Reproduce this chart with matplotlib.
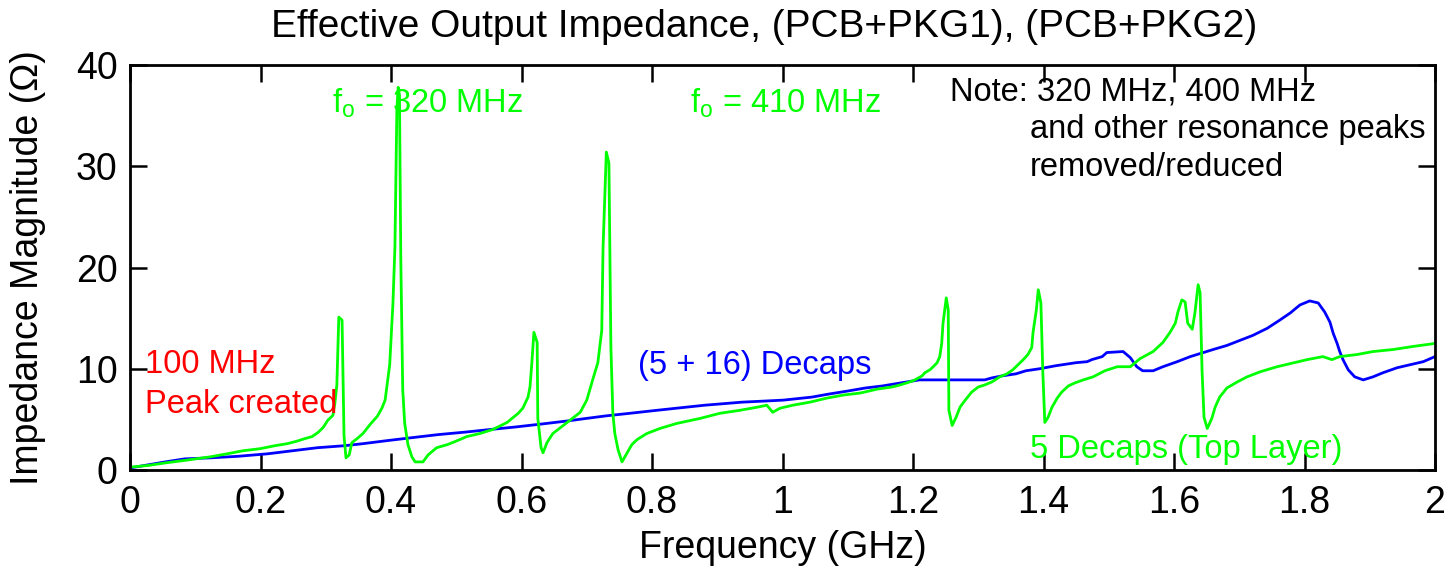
import matplotlib
matplotlib.use("Agg")
import matplotlib.pyplot as plt

plt.rcParams['font.family'] = ['Liberation Sans', 'DejaVu Sans']

# ---- data (GHz, Ohm) ----
freq_5 = [0.003, 0.028, 0.054, 0.084, 0.123, 0.149, 0.173, 0.199, 0.222, 0.241,
          0.256, 0.268, 0.279, 0.288, 0.296, 0.303, 0.311, 0.314, 0.317, 0.320,
          0.325, 0.328, 0.331, 0.336, 0.340, 0.348, 0.357, 0.368, 0.379, 0.386,
          0.391, 0.394, 0.398, 0.403, 0.406, 0.409, 0.411, 0.413, 0.415, 0.418,
          0.421, 0.426, 0.432, 0.437, 0.449, 0.457, 0.470, 0.486, 0.498, 0.516,
          0.536, 0.556, 0.578, 0.595, 0.602, 0.610, 0.613, 0.616, 0.619, 0.624,
          0.625, 0.630, 0.633, 0.639, 0.648, 0.670, 0.690, 0.700, 0.710, 0.717,
          0.723, 0.725, 0.730, 0.734, 0.737, 0.740, 0.743, 0.748, 0.754, 0.762,
          0.769, 0.777, 0.792, 0.812, 0.838, 0.874, 0.904, 0.935, 0.961, 0.976,
          0.985, 0.996, 1.016, 1.042, 1.068, 1.093, 1.119, 1.146, 1.168, 1.180,
          1.195, 1.203, 1.214, 1.218, 1.226, 1.231, 1.237, 1.241, 1.244, 1.246,
          1.251, 1.254, 1.255, 1.260, 1.266, 1.272, 1.280, 1.290, 1.300, 1.310,
          1.321, 1.333, 1.344, 1.353, 1.361, 1.369, 1.376, 1.382, 1.384, 1.389,
          1.392, 1.396, 1.399, 1.402, 1.407, 1.413, 1.421, 1.428, 1.438, 1.448,
          1.461, 1.476, 1.494, 1.513, 1.533, 1.548, 1.568, 1.583, 1.594, 1.602,
          1.606, 1.612, 1.617, 1.621, 1.628, 1.632, 1.637, 1.640, 1.643, 1.646,
          1.651, 1.658, 1.663, 1.670, 1.681, 1.697, 1.712, 1.732, 1.758, 1.778,
          1.804, 1.828, 1.842, 1.854, 1.880, 1.905, 1.936, 1.966, 2.000]
z_5 = [0.3, 0.45, 0.7, 0.95, 1.3, 1.6, 1.9, 2.1, 2.4, 2.6,
       2.85, 3.1, 3.3, 3.7, 4.2, 4.9, 5.4, 6.6, 8.4, 15.1,
       14.8, 3.4, 1.2, 1.5, 2.7, 3.1, 3.6, 4.5, 5.3, 6.1,
       6.9, 8.4, 10.4, 16.5, 22.0, 35.6, 37.8, 37.0, 20.9, 7.9,
       4.6, 2.5, 1.3, 0.8, 0.8, 1.5, 2.2, 2.5, 2.8, 3.3,
       3.6, 4.0, 4.7, 5.6, 6.1, 7.2, 8.2, 10.7, 13.6, 12.6,
       5.1, 2.2, 1.7, 2.7, 3.6, 4.7, 5.7, 6.9, 9.1, 10.6,
       13.8, 22.0, 31.4, 30.3, 12.1, 5.6, 3.6, 2.0, 0.8, 1.7,
       2.5, 3.0, 3.6, 4.1, 4.6, 5.1, 5.6, 5.9, 6.2, 6.4,
       5.7, 6.1, 6.4, 6.7, 7.1, 7.4, 7.6, 8.0, 8.2, 8.4,
       8.7, 8.9, 9.3, 9.6, 9.9, 10.2, 10.6, 11.2, 12.5, 14.5,
       17.0, 15.8, 5.9, 4.4, 5.2, 6.2, 6.9, 7.7, 8.2, 8.4,
       8.7, 9.2, 9.5, 9.9, 10.4, 10.9, 11.4, 12.1, 13.6, 15.8,
       17.8, 16.5, 9.6, 4.7, 5.2, 6.2, 7.1, 7.7, 8.3, 8.6,
       8.9, 9.2, 9.8, 10.2, 10.2, 11.0, 11.7, 12.6, 13.6, 14.5,
       15.6, 16.8, 16.6, 14.5, 13.9, 15.5, 18.3, 17.5, 9.8, 5.2,
       4.1, 5.1, 6.2, 7.2, 8.1, 8.7, 9.2, 9.7, 10.2, 10.5,
       10.9, 11.2, 10.9, 11.2, 11.4, 11.7, 11.9, 12.2, 12.5]

freq_21 = [0.0, 0.054, 0.084, 0.123, 0.165, 0.211, 0.249, 0.287, 0.329, 0.357,
           0.394, 0.433, 0.473, 0.515, 0.552, 0.591, 0.632, 0.671, 0.700, 0.730,
           0.766, 0.801, 0.837, 0.881, 0.938, 1.001, 1.045, 1.071, 1.100, 1.127,
           1.153, 1.181, 1.210, 1.260, 1.310, 1.321, 1.337, 1.358, 1.373, 1.394,
           1.419, 1.450, 1.467, 1.474, 1.490, 1.497, 1.522, 1.533, 1.543, 1.552,
           1.568, 1.583, 1.605, 1.625, 1.640, 1.660, 1.681, 1.701, 1.721, 1.743,
           1.762, 1.778, 1.793, 1.808, 1.821, 1.831, 1.839, 1.844, 1.850, 1.854,
           1.859, 1.867, 1.877, 1.890, 1.905, 1.920, 1.942, 1.962, 1.982, 2.000]
z_21 = [0.2, 0.8, 1.1, 1.2, 1.35, 1.6, 1.9, 2.2, 2.4, 2.6,
        2.9, 3.2, 3.5, 3.75, 4.0, 4.25, 4.55, 4.85, 5.1, 5.35,
        5.6, 5.85, 6.1, 6.4, 6.7, 6.9, 7.2, 7.5, 7.8, 8.1,
        8.3, 8.6, 8.9, 8.9, 8.9, 9.1, 9.3, 9.5, 9.8, 10.0,
        10.3, 10.6, 10.7, 10.9, 11.2, 11.6, 11.7, 11.1, 10.2, 9.8,
        9.8, 10.2, 10.7, 11.2, 11.5, 11.9, 12.3, 12.8, 13.3, 14.0,
        14.8, 15.5, 16.3, 16.7, 16.5, 15.6, 14.6, 13.5, 12.5, 11.7,
        10.9, 9.9, 9.2, 8.9, 9.2, 9.6, 10.1, 10.4, 10.7, 11.2]

title_text = "Effective Output Impedance, (PCB+PKG1), (PCB+PKG2)"
x_label = "Frequency (GHz)"
y_label = "Impedance Magnitude (Ω)"
x_ticks = [0, 0.2, 0.4, 0.6, 0.8, 1.0, 1.2, 1.4, 1.6, 1.8, 2.0]
x_tick_labels = ["0", "0.2", "0.4", "0.6", "0.8", "1", "1.2", "1.4", "1.6", "1.8", "2"]
y_ticks = [0, 10, 20, 30, 40]

GREEN = (0, 1, 0)
BLUE = (0, 0, 1)
RED = (1, 0, 0)

fig = plt.figure(figsize=(14.48, 5.68), dpi=100)
ax = fig.add_axes([130 / 1448, 98 / 568, 1305 / 1448, 405 / 568])

ax.plot(freq_21, z_21, color=BLUE, lw=2.0)
ax.plot(freq_5, z_5, color=GREEN, lw=2.0)

ax.set_xlim(0, 2)
ax.set_ylim(0, 40)
ax.set_xticks(x_ticks)
ax.set_xticklabels(x_tick_labels)
ax.set_yticks(y_ticks)

fs = 27
ax.tick_params(direction='in', length=12, width=1.8, top=True, right=True,
               labelsize=fs)
ax.tick_params(axis='x', pad=11)
ax.tick_params(axis='y', pad=9)
for s in ax.spines.values():
    s.set_linewidth(2.0)

ax.set_title(title_text, fontsize=28, pad=20)
ax.title.set_x((764 - 130) / 1305)
ax.set_xlabel(x_label, fontsize=fs)
ax.set_ylabel(y_label, fontsize=fs)
ax.xaxis.label.set_va('center')
ax.xaxis.set_label_coords(0.5, (470 - 548) / 405)
ax.yaxis.label.set_va('center')
ax.yaxis.set_label_coords((28 - 130) / 1305, 0.5)

afs = 23.5
ax.text(0.310, 36.2, r"f$_\mathregular{o}$ = 320 MHz", color=GREEN, fontsize=afs, va='center')
ax.text(0.858, 36.2, r"f$_\mathregular{o}$ = 410 MHz", color=GREEN, fontsize=afs, va='center')
ax.text(1.257, 37.3, "Note: 320 MHz, 400 MHz", color='black', fontsize=afs, va='center')
ax.text(1.379, 33.6, "and other resonance peaks", color='black', fontsize=afs, va='center')
ax.text(1.379, 29.9, "removed/reduced", color='black', fontsize=afs, va='center')
ax.text(0.023, 10.4, "100 MHz", color=RED, fontsize=afs, va='center')
ax.text(0.023, 6.5, "Peak created", color=RED, fontsize=afs, va='center')
ax.text(0.779, 10.3, "(5 + 16) Decaps", color=BLUE, fontsize=afs, va='center')
ax.text(1.379, 2.0, "5 Decaps (Top Layer)", color=GREEN, fontsize=afs, va='center')

fig.savefig("out.png", dpi=100)
